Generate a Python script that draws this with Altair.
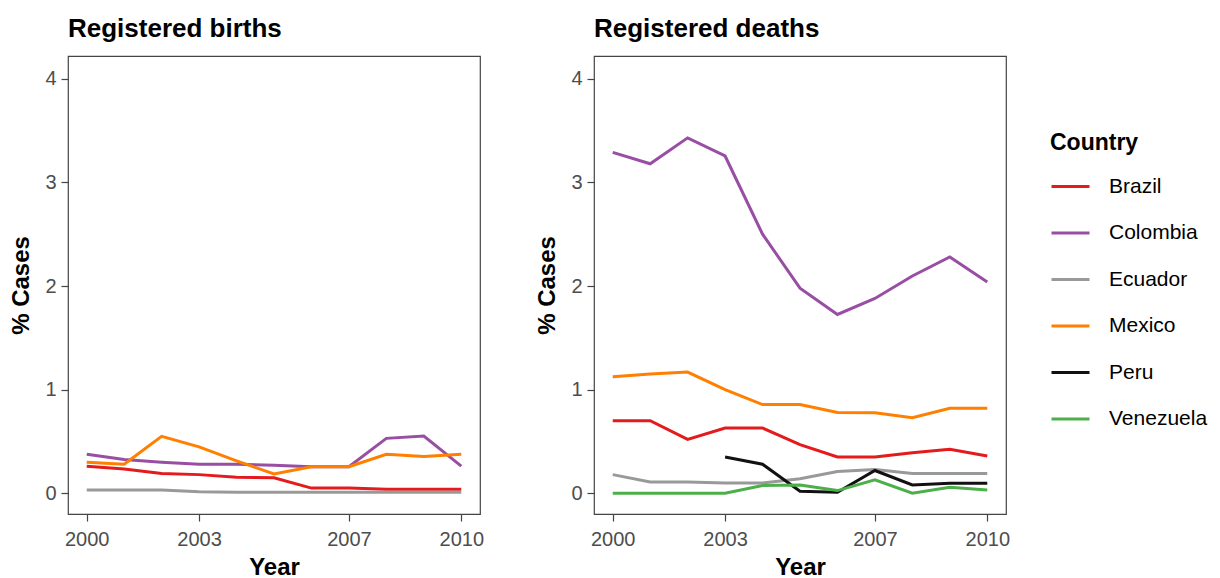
import altair as alt
import pandas as pd

years = [2000, 2001, 2002, 2003, 2004, 2005, 2006, 2007, 2008, 2009, 2010]
countries = ["Brazil", "Colombia", "Ecuador", "Mexico", "Peru", "Venezuela"]
palette = ["#E41A1C", "#984EA3", "#999999", "#FF7F00", "#111111", "#4DAF4A"]
x_ticks = [2000, 2003, 2007, 2010]
y_ticks = [0, 1, 2, 3, 4]

births_brazil = [0.26, 0.235, 0.19, 0.18, 0.155, 0.15, 0.05, 0.05, 0.038, 0.038, 0.038]
births_colombia = [0.377, 0.326, 0.30, 0.28, 0.28, 0.27, 0.256, 0.256, 0.53, 0.553, 0.262]
births_ecuador = [0.032, 0.032, 0.032, 0.015, 0.01, 0.01, 0.01, 0.01, 0.01, 0.01, 0.01]
births_mexico = [0.30, 0.28, 0.55, 0.448, 0.313, 0.186, 0.256, 0.256, 0.377, 0.355, 0.377]

deaths_brazil = [0.70, 0.70, 0.52, 0.63, 0.63, 0.47, 0.35, 0.35, 0.39, 0.425, 0.36]
deaths_colombia = [3.29, 3.18, 3.43, 3.255, 2.50, 1.98, 1.726, 1.88, 2.097, 2.28, 2.04]
deaths_ecuador = [0.18, 0.11, 0.11, 0.10, 0.10, 0.14, 0.21, 0.23, 0.19, 0.19, 0.19]
deaths_mexico = [1.125, 1.15, 1.17, 1.0, 0.856, 0.856, 0.78, 0.776, 0.73, 0.82, 0.82]
deaths_peru = [None, None, None, 0.35, 0.28, 0.02, 0.01, 0.22, 0.08, 0.096, 0.096]
deaths_venezuela = [0.0, 0.0, 0.0, 0.0, 0.074, 0.08, 0.026, 0.13, 0.0, 0.058, 0.032]

births = {
    "Brazil": births_brazil,
    "Colombia": births_colombia,
    "Ecuador": births_ecuador,
    "Mexico": births_mexico,
}
deaths = {
    "Brazil": deaths_brazil,
    "Colombia": deaths_colombia,
    "Ecuador": deaths_ecuador,
    "Mexico": deaths_mexico,
    "Peru": deaths_peru,
    "Venezuela": deaths_venezuela,
}


def to_frame(series):
    rows = []
    for country, vals in series.items():
        for yr, v in zip(years, vals):
            if v is not None:
                rows.append({"Year": yr, "Country": country, "Value": v})
    return pd.DataFrame(rows)


FONT = "Liberation Sans"


def panel(df, title):
    return alt.Chart(df).mark_line(strokeWidth=3).encode(
        x=alt.X(
            "Year:Q",
            scale=alt.Scale(domain=[1999.5, 2010.5], nice=False, zero=False),
            axis=alt.Axis(values=x_ticks, format="d", title="Year",
                          labelPadding=8, titlePadding=6, labelFlush=False),
        ),
        y=alt.Y(
            "Value:Q",
            scale=alt.Scale(domain=[-0.2, 4.22], nice=False, zero=False),
            axis=alt.Axis(values=y_ticks, title="% Cases",
                          labelPadding=5, titlePadding=11),
        ),
        color=alt.Color(
            "Country:N",
            scale=alt.Scale(domain=countries, range=palette),
            legend=alt.Legend(
                title="Country", orient="none", legendX=982, legendY=76,
                symbolType="stroke", symbolSize=1444, symbolStrokeWidth=3,
                labelFontSize=21, labelFont=FONT, labelColor="#000000",
                titleFontSize=23, titleFont=FONT, titleFontWeight="bold",
                titleColor="#000000", titlePadding=11, rowPadding=15.5,
                labelOffset=18,
            ),
        ),
    ).properties(
        width=412, height=458,
        title=alt.TitleParams(title, anchor="start", frame="group", fontSize=26,
                              font=FONT, fontWeight="bold", color="#000000",
                              offset=14),
    )


left = panel(to_frame(births), "Registered births")
right = panel(to_frame(deaths), "Registered deaths")

chart = alt.hconcat(left, right, spacing=50).properties(
    padding={"left": 1, "top": 7, "right": 0, "bottom": 0}
).configure_view(
    stroke="#444444", strokeWidth=1.2
).configure_axis(
    domain=False, grid=False, tickColor="#444444", tickSize=7, tickWidth=1.2,
    labelColor="#4D4D4D", labelFontSize=20, labelFont=FONT,
    titleFont=FONT, titleFontSize=24, titleFontWeight="bold", titleColor="#000000",
)

chart.save("out.html", embed_options={"renderer": "svg", "actions": False})
